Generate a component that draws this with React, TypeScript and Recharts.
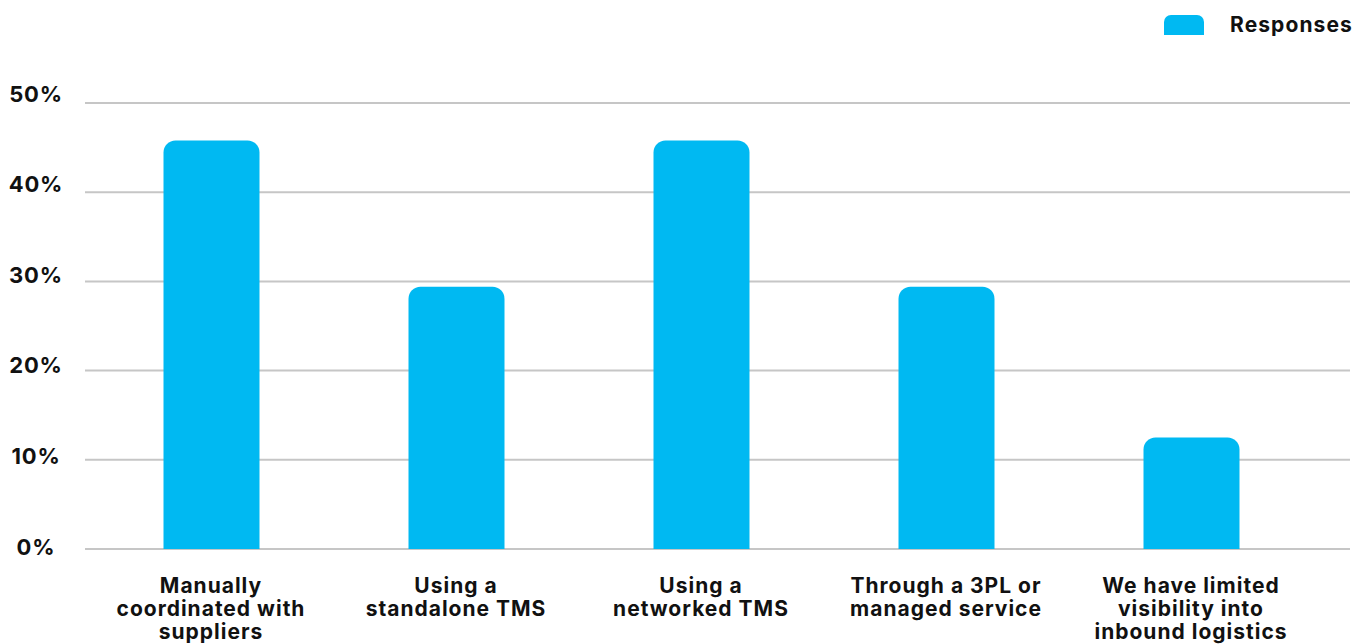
import React from 'react';
import { BarChart, Bar, XAxis, YAxis, CartesianGrid } from 'recharts';

const categories = [
  'Manually coordinated with suppliers',
  'Using a standalone TMS',
  'Using a networked TMS',
  'Through a 3PL or managed service',
  'We have limited visibility into inbound logistics',
];

// wrapped label lines, same order as categories
const labelLines = [
  ['Manually', 'coordinated with', 'suppliers'],
  ['Using a', 'standalone TMS'],
  ['Using a', 'networked TMS'],
  ['Through a 3PL or', 'managed service'],
  ['We have limited', 'visibility into', 'inbound logistics'],
];

const responses = [45.8, 29.4, 45.8, 29.4, 12.5];

const yTicks = [0, 10, 20, 30, 40, 50];

const BAR_COLOR = '#00b9f2';
const FONT = 'Inter, "Noto Sans", sans-serif';

const data = categories.map((name, i) => ({
  name,
  responses: responses[i],
}));

const XTick = ({ x, y, index }: any) => {
  const lines = labelLines[index] || [];
  return (
    <text
      x={x}
      y={y}
      textAnchor="middle"
      fill="#111"
      fontFamily={FONT}
      fontWeight={700}
      fontSize={21}
      letterSpacing={1}
    >
      {lines.map((l, i) => (
        <tspan key={i} x={x} dy={i === 0 ? 36 : 23}>
          {l}
        </tspan>
      ))}
    </text>
  );
};

const YTick = ({ y, payload }: any) => {
  // labels sit slightly above their gridline
  const shift = -2.5 - 0.14 * payload.value;
  return (
    <text
      x={36}
      y={y + shift}
      dy={8}
      textAnchor="middle"
      fill="#111"
      fontFamily={FONT}
      fontWeight={700}
      fontSize={22}
      letterSpacing={0.8}
    >
      {payload.value}%
    </text>
  );
};

export default function App() {
  return (
    <div style={{ position: 'absolute', left: 0, top: 0, width: 1366, height: 644, background: '#fff' }}>
      <style>{'body{margin:0}'}</style>
      <div
        style={{
          position: 'absolute',
          left: 1164,
          top: 15,
          display: 'flex',
          alignItems: 'flex-start',
          fontFamily: FONT,
          fontWeight: 700,
          fontSize: 21,
          letterSpacing: 1.1,
          lineHeight: '20px',
          color: '#111',
        }}
      >
        <div
          style={{
            width: 40,
            height: 20,
            background: BAR_COLOR,
            borderTopLeftRadius: 7,
            borderTopRightRadius: 7,
            marginRight: 26,
          }}
        />
        <span style={{ marginTop: 0 }}>Responses</span>
      </div>
      <BarChart
        width={1366}
        height={644}
        data={data}
        margin={{ top: 103, right: 16, bottom: 0, left: 0 }}
      >
        <CartesianGrid vertical={false} stroke="#c6c6c6" strokeWidth={2} />
        <XAxis
          dataKey="name"
          axisLine={false}
          tickLine={false}
          interval={0}
          padding={{ left: 3.5, right: 36.5 }}
          tick={<XTick />}
          height={95}
        />
        <YAxis
          domain={[0, 50]}
          ticks={yTicks}
          axisLine={false}
          tickLine={false}
          width={85}
          tick={<YTick />}
        />
        <Bar
          dataKey="responses"
          fill={BAR_COLOR}
          barSize={96}
          radius={[12, 12, 0, 0]}
          isAnimationActive={false}
        />
      </BarChart>
    </div>
  );
}
